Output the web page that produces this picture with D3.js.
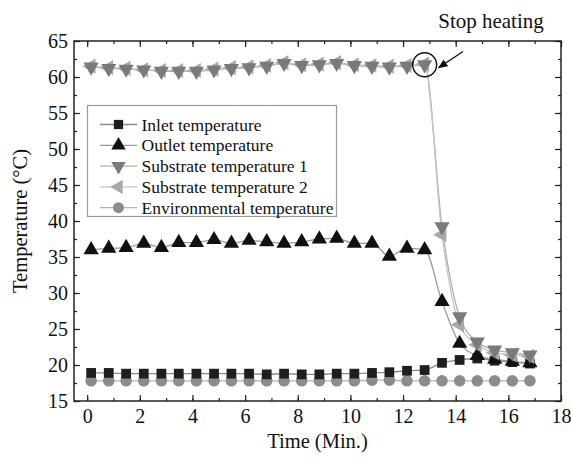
<!DOCTYPE html>
<html><head><meta charset="utf-8">
<script src="https://cdn.jsdelivr.net/npm/d3@7"></script>
<style>body{margin:0;background:#fff}svg{display:block}svg text{font-family:"Liberation Serif","Times New Roman",serif !important}</style>
</head><body><div id="chart"></div>
<script>
const time = [0.15,0.82,1.48,2.15,2.82,3.48,4.15,4.82,5.48,6.15,6.82,7.48,8.15,8.82,9.48,10.15,10.82,11.48,12.15,12.82,13.48,14.15,14.82,15.48,16.15,16.82];
const inlet = [18.9,18.9,18.8,18.8,18.8,18.8,18.8,18.8,18.8,18.8,18.7,18.8,18.7,18.7,18.8,18.8,18.9,19.0,19.2,19.3,20.3,20.7,20.9,20.6,20.4,20.2];
const outlet = [36.0,36.2,36.3,36.9,36.3,37.0,37.0,37.4,36.9,37.3,37.1,36.9,37.1,37.5,37.6,36.9,36.9,35.1,36.2,36.0,28.8,23.0,21.3,20.8,20.5,20.3];
const substrate1 = [61.4,61.2,61.1,61.0,60.8,60.8,60.8,61.0,61.2,61.3,61.5,61.9,61.6,61.7,61.9,61.6,61.5,61.4,61.5,61.7,39.2,26.7,23.2,22.1,21.7,21.4];
const substrate2 = [61.5,61.3,61.2,61.0,60.9,60.9,60.9,61.1,61.3,61.4,61.6,62.0,61.7,61.8,62.0,61.7,61.6,61.5,61.6,61.8,38.1,25.6,22.8,21.7,21.4,21.2];
const environmental = [17.8,17.8,17.8,17.8,17.8,17.8,17.8,17.8,17.8,17.8,17.8,17.8,17.8,17.8,17.8,17.8,17.9,17.9,17.8,17.8,17.8,17.8,17.8,17.8,17.8,17.8];
const seriesNames = ["Inlet temperature","Outlet temperature","Substrate temperature 1","Substrate temperature 2","Environmental temperature"];
const xTicks = [0,2,4,6,8,10,12,14,16,18];
const yTicks = [15,20,25,30,35,40,45,50,55,60,65];

const W = 571, H = 460;
const m = {l:74, r:10, t:41, b:59};
const FF = "Liberation Serif, Times New Roman, serif";
const svg = d3.select("#chart").append("svg").attr("width",W).attr("height",H).attr("font-family",FF);
const x = d3.scaleLinear().domain([-0.5,18]).range([m.l, W-m.r]);
const y = d3.scaleLinear().domain([15,65]).range([H-m.b, m.t]);

const series = [
  {name:seriesNames[0], vals:inlet, sym:d3.symbolSquare, size:95, rot:0, fill:"#1e1e1e", line:"#8a8a8a"},
  {name:seriesNames[1], vals:outlet, sym:d3.symbolTriangle, size:100, rot:0, fill:"#111", line:"#9a9a9a"},
  {name:seriesNames[2], vals:substrate1, sym:d3.symbolTriangle, size:100, rot:180, fill:"#7a7a7a", line:"#b0b0b0"},
  {name:seriesNames[3], vals:substrate2, sym:d3.symbolTriangle, size:100, rot:-90, fill:"#a9a9a9", line:"#c4c4c4"},
  {name:seriesNames[4], vals:environmental, sym:d3.symbolCircle, size:105, rot:0, fill:"#8c8c8c", line:"#b4b4b4"}
];

const line = d3.line().x(d=>x(d[0])).y(d=>y(d[1])).curve(d3.curveMonotoneX);
series.forEach(s=>{
  svg.append("path").datum(time.map((t,i)=>[t,s.vals[i]]))
    .attr("d",line).attr("fill","none").attr("stroke",s.line).attr("stroke-width",1.3);
});
[4,0,1,3,2].forEach(k=>{
  const s = series[k];
  const sym = d3.symbol().type(s.sym).size(s.size);
  svg.append("g").selectAll("path").data(time.map((t,i)=>[t,s.vals[i]])).join("path")
    .attr("d",sym).attr("fill",s.fill)
    .attr("transform",d=>`translate(${x(d[0])},${y(d[1])}) rotate(${s.rot})`);
});

const fs = 20;
svg.append("g").attr("transform",`translate(0,${H-m.b})`)
  .call(d3.axisBottom(x).tickValues(xTicks).tickSize(-6).tickPadding(8).tickFormat(d3.format("d")));
svg.append("g").attr("transform",`translate(0,${H-m.b})`)
  .call(d3.axisBottom(x).tickValues(d3.range(0,19,1)).tickSize(-3).tickFormat(""));
svg.append("g").attr("transform",`translate(${m.l},0)`)
  .call(d3.axisLeft(y).tickValues(yTicks).tickSize(-6).tickPadding(6).tickFormat(d3.format("d")));
svg.append("g").attr("transform",`translate(${m.l},0)`)
  .call(d3.axisLeft(y).tickValues(d3.range(15,65.1,2.5)).tickSize(-3).tickFormat(""));
svg.append("g").attr("transform",`translate(0,${m.t})`)
  .call(d3.axisTop(x).tickValues(xTicks).tickSize(-6).tickFormat(""));
svg.append("g").attr("transform",`translate(0,${m.t})`)
  .call(d3.axisTop(x).tickValues(d3.range(0,19,1)).tickSize(-3).tickFormat(""));
svg.append("g").attr("transform",`translate(${W-m.r},0)`)
  .call(d3.axisRight(y).tickValues(yTicks).tickSize(-6).tickFormat(""));
svg.append("g").attr("transform",`translate(${W-m.r},0)`)
  .call(d3.axisRight(y).tickValues(d3.range(15,65.1,2.5)).tickSize(-3).tickFormat(""));
svg.selectAll(".domain").remove();
svg.selectAll("g").attr("font-family",FF);
svg.selectAll(".tick line").attr("stroke","#222").attr("stroke-width",1.2);
svg.selectAll(".tick text").attr("font-size",fs).attr("fill","#111");
svg.append("rect").attr("x",m.l).attr("y",m.t).attr("width",W-m.r-m.l).attr("height",H-m.b-m.t)
  .attr("fill","none").attr("stroke","#222").attr("stroke-width",1.5);

svg.append("text").attr("x",(m.l+W-m.r)/2).attr("y",448).attr("text-anchor","middle")
  .attr("font-size",20.5).attr("fill","#111").text("Time (Min.)");
svg.append("text").attr("transform",`translate(27,${(m.t+H-m.b)/2}) rotate(-90)`).attr("text-anchor","middle")
  .attr("font-size",20.5).attr("fill","#111").text("Temperature (°C)");

const lg = svg.append("g");
lg.append("rect").attr("x",87.5).attr("y",105.5).attr("width",249).attr("height",111)
  .attr("fill","#fff").attr("stroke","#9a9a9a").attr("stroke-width",1.2);
series.forEach((s,i)=>{
  const cy = 124.5 + i*20.8;
  lg.append("line").attr("x1",100).attr("x2",137).attr("y1",cy).attr("y2",cy).attr("stroke",s.line).attr("stroke-width",1.3);
  lg.append("path").attr("d",d3.symbol().type(s.sym).size(s.size*0.9)()).attr("fill",s.fill)
    .attr("transform",`translate(118.5,${cy}) rotate(${s.rot})`);
  lg.append("text").attr("x",141.5).attr("y",cy+6).attr("font-size",17.5).attr("fill","#111").text(s.name);
});

const idx = 19;
const cx = x(time[idx]), cyy = y(substrate1[idx]);
svg.append("circle").attr("cx",cx).attr("cy",cyy).attr("r",12).attr("fill","none").attr("stroke","#111").attr("stroke-width",1.4);
svg.append("defs").append("marker").attr("id","ah").attr("viewBox","0 0 10 10").attr("refX",9).attr("refY",5)
  .attr("markerWidth",7).attr("markerHeight",7).attr("orient","auto")
  .append("path").attr("d","M0,1 L10,5 L0,9 z").attr("fill","#111");
svg.append("line").attr("x1",463).attr("y1",51.5).attr("x2",cx+14).attr("y2",cyy+3)
  .attr("stroke","#111").attr("stroke-width",1.4).attr("marker-end","url(#ah)");
svg.append("text").attr("x",491).attr("y",28).attr("text-anchor","middle").attr("font-size",21).attr("fill","#111").text("Stop heating");
</script></body></html>
